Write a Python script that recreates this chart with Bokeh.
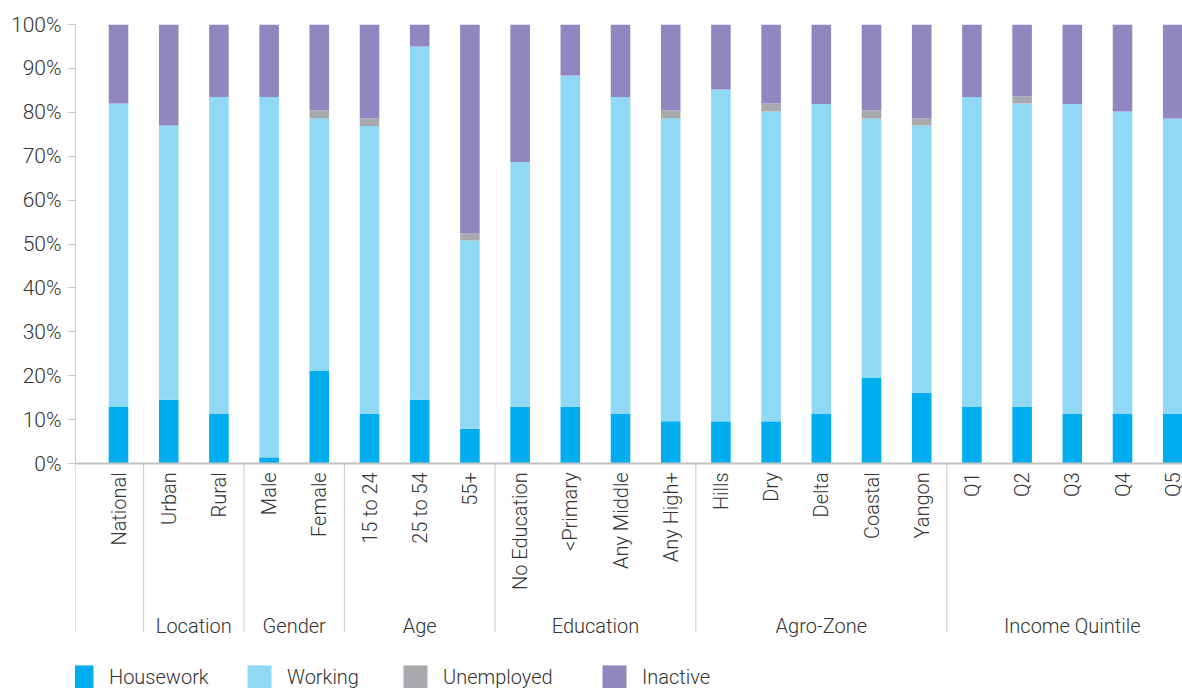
import math
from bokeh.plotting import figure
from bokeh.models import (Range1d, FixedTicker, PrintfTickFormatter, Span,
                          ColumnDataSource, Legend, LegendItem)
from bokeh.core.properties import value
from bokeh.embed import file_html
from bokeh.resources import INLINE

categories = ["National", "Urban", "Rural", "Male", "Female", "15 to 24", "25 to 54", "55+",
              "No Education", "<Primary", "Any Middle", "Any High+",
              "Hills", "Dry", "Delta", "Coastal", "Yangon",
              "Q1", "Q2", "Q3", "Q4", "Q5"]
groups = ["", "Location", "Location", "Gender", "Gender", "Age", "Age", "Age",
          "Education", "Education", "Education", "Education",
          "Agro-Zone", "Agro-Zone", "Agro-Zone", "Agro-Zone", "Agro-Zone",
          "Income Quintile", "Income Quintile", "Income Quintile", "Income Quintile", "Income Quintile"]

housework  = [13.0, 14.5, 11.3, 1.4, 21.1, 11.3, 14.5, 7.9, 12.9, 12.9, 11.3, 9.6,
              9.6, 9.6, 11.3, 19.5, 16.1, 12.9, 12.9, 11.3, 11.3, 11.3]
working    = [69.0, 62.5, 72.2, 82.1, 57.5, 65.6, 80.5, 42.9, 55.8, 75.5, 72.2, 69.0,
              75.6, 70.6, 70.6, 59.1, 60.9, 70.6, 69.1, 70.6, 68.9, 67.3]
unemployed = [0.0, 0.0, 0.0, 0.0, 1.8, 1.7, 0.0, 1.6, 0.0, 0.0, 0.0, 1.8,
              0.0, 1.8, 0.0, 1.8, 1.6, 0.0, 1.6, 0.0, 0.0, 0.0]
inactive   = [18.0, 23.0, 16.5, 16.5, 19.6, 21.4, 5.0, 47.6, 31.3, 11.6, 16.5, 19.6,
              14.8, 18.0, 18.1, 19.6, 21.4, 16.5, 16.4, 18.1, 19.8, 21.4]

series = ["Housework", "Working", "Unemployed", "Inactive"]
colors = ["#00AEEF", "#8FD9F7", "#A7A9AC", "#9086C0"]
y_ticks = list(range(0, 101, 10))

FONT = "'Roboto Light', 'Liberation Sans'"
TXT = "#333333"
AXIS = "#C8C8C8"

xs = list(range(len(categories)))
source = ColumnDataSource(dict(x=xs, Housework=housework, Working=working,
                               Unemployed=unemployed, Inactive=inactive))

x_start, x_end = -0.857, 21.195
p = figure(width=1182, height=688, output_backend="svg", toolbar_location=None,
           x_range=Range1d(x_start, x_end), y_range=Range1d(-51.25, 100),
           x_axis_location=None, min_border_left=75, min_border_right=0,
           min_border_top=24, min_border_bottom=0)
p.outline_line_color = None
p.grid.visible = False
p.background_fill_color = "white"
p.border_fill_color = "white"

renderers = p.vbar_stack(series, x="x", width=0.39, color=colors, line_color=None,
                         source=source)

# y axis
ya = p.yaxis[0]
ya.ticker = FixedTicker(ticks=y_ticks)
ya.formatter = PrintfTickFormatter(format="%d%%")
ya.bounds = (0, 100)
ya.axis_line_color = AXIS
ya.major_tick_line_color = AXIS
ya.major_tick_out = 8
ya.major_tick_in = 0
ya.minor_tick_line_color = None
ya.major_label_standoff = 6
ya.major_label_text_font_size = "21px"
ya.major_label_text_font = FONT
ya.major_label_text_color = TXT

# baseline
p.add_layout(Span(location=0, dimension="width", line_color="#C2C2C2", line_width=2))

# category labels
p.text(x=xs, y=[-2.0] * len(xs), text=categories, angle=math.pi / 2,
       text_align="right", text_baseline="middle", text_font=value(FONT),
       text_font_size="20px", text_color=TXT)

# group separators and labels
sep_x = [x_start] + [i - 0.5 for i in range(1, len(groups)) if groups[i] != groups[i - 1]]
p.segment(x0=sep_x, y0=[0] * len(sep_x), x1=sep_x, y1=[-38.5] * len(sep_x),
          line_color=AXIS, line_width=1)

glabels, gx = [], []
for g in dict.fromkeys(groups):
    if g:
        idx = [i for i, gg in enumerate(groups) if gg == g]
        glabels.append(g)
        gx.append(sum(idx) / len(idx))
p.text(x=gx, y=[-36.9] * len(gx), text=glabels, text_align="center",
       text_baseline="middle", text_font=value(FONT), text_font_size="20px",
       text_color=TXT)

# legend: one per item, placed like the reference
legend_x = [-9, 169, 325, 524]
for r, name, lx in zip(renderers, series, legend_x):
    lg = Legend(items=[LegendItem(label=name, renderers=[r])], location=(lx, -3),
                orientation="horizontal", glyph_width=30, glyph_height=29,
                label_standoff=13, padding=0, margin=0, spacing=0,
                border_line_color=None, background_fill_alpha=0,
                label_text_font=FONT, label_text_font_size="20px",
                label_text_color=TXT)
    p.add_layout(lg)

open("out.html", "w").write(file_html(p, INLINE))
